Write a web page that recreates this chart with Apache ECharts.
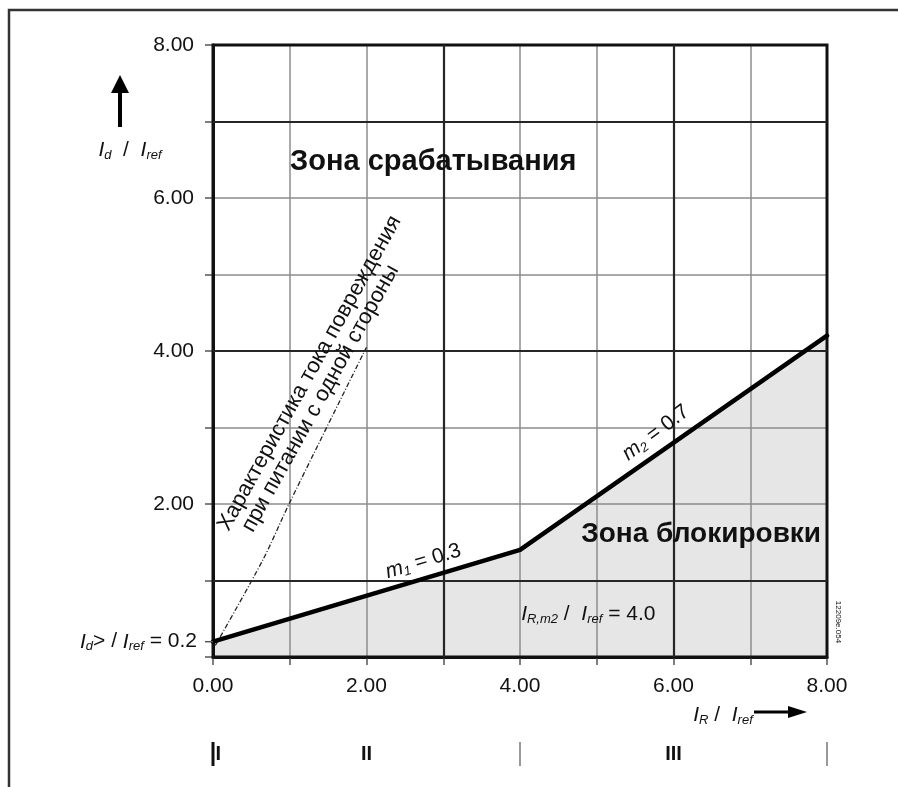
<!DOCTYPE html>
<html><head><meta charset="utf-8">
<script src="https://cdn.jsdelivr.net/npm/echarts@6/dist/echarts.min.js"></script>
<style>html,body{margin:0;padding:0;background:#fff}#c{width:898px;height:787px}</style>
</head><body><div id="c"></div>
<script>
// ---- data ----
const restraint = [0, 4, 8];            // I_R / I_ref
const diffChar  = [0.2, 1.4, 4.2];      // I_d / I_ref tripping characteristic
const faultX = [0.03, 0.65, 1.0, 2.0];  // single-side infeed fault characteristic
const faultY = [0.15, 1.27, 2.02, 4.05];
const majorX = [3, 6];
const majorY = [1, 4, 7];
const axisMin = 0, axisMax = 8, axisStep = 1;
const labelStep = 2;
const zoneNames = ['I', 'II', 'III'];
const zoneNameX = [0.07, 2, 6];
const zoneTickX = [0, 4, 8];
const pickup = 0.2;

const FONT = '"Liberation Sans", Arial, sans-serif';
const chart = echarts.init(document.getElementById('c'), null, {renderer: 'canvas'});

const charData = restraint.map((x, i) => [x, diffChar[i]]);
const faultData = faultX.map((x, i) => [x, faultY[i]]);

function axis(skipZero) {
  return {
    type: 'value', min: axisMin, max: axisMax, interval: axisStep, z: 2,
    axisLine: {show: true, onZero: false, lineStyle: {color: '#111', width: 3}},
    axisTick: {show: true, length: 8, lineStyle: {color: '#555', width: 1.5}},
    axisLabel: {
      color: '#111', fontFamily: FONT, fontSize: 21, margin: 19,
      formatter: v => (v % labelStep === 0 && !(skipZero && v === 0) ? v.toFixed(2) : '')
    },
    splitLine: {show: true, lineStyle: {color: '#8c8c8c', width: 1.5}}
  };
}

chart.setOption({
  animation: false,
  backgroundColor: '#fff',
  grid: {left: 213, top: 45, width: 614, height: 612, show: true,
         borderColor: '#111', borderWidth: 3, backgroundColor: 'transparent', z: 3},
  xAxis: axis(false),
  yAxis: axis(true),
  series: [
    { // blocking zone fill
      type: 'line', data: charData, z: 1, symbol: 'none',
      lineStyle: {width: 0}, areaStyle: {color: '#e6e6e6', opacity: 1}
    },
    { // major grid lines
      type: 'line', data: [], z: 3,
      markLine: {
        silent: true, symbol: ['none', 'none'], label: {show: false},
        lineStyle: {color: '#262626', width: 2.2, type: 'solid'},
        data: majorX.map(v => ({xAxis: v})).concat(majorY.map(v => ({yAxis: v})))
      }
    },
    { // fault characteristic
      type: 'line', data: faultData, z: 4, symbol: 'none', smooth: 0.3,
      lineStyle: {color: '#222', width: 1.3, type: [5, 2, 1, 2]}
    },
    { // tripping characteristic
      type: 'line', data: charData, z: 5, symbol: 'none',
      lineStyle: {color: '#000', width: 4.5, cap: 'round', join: 'round'}
    }
  ]
});

const P = (x, y) => chart.convertToPixel({gridIndex: 0}, [x, y]);
const deg = d => d * Math.PI / 180;
function txt(pos, text, opts) {
  return Object.assign({
    type: 'text', x: pos[0], y: pos[1], z: 20, rotation: 0,
    style: Object.assign({text: text, fill: '#111', font: '20px ' + FONT,
                          align: 'center', verticalAlign: 'middle'}, opts.style || {})
  }, opts.el || {});
}
const italic = {fontStyle: 'italic', fontSize: 21, fontFamily: FONT, fill: '#111'};
const sub = {fontStyle: 'italic', fontSize: 13, fontFamily: FONT, fill: '#111', padding: [10, 0, 0, 0]};
const norm = {fontSize: 21, fontFamily: FONT, fill: '#111'};
const richBase = {i: italic, s: sub, n: norm};

const g = [];
// outer frame (cropped)
g.push({type: 'polyline', shape: {points: [[9, 787], [9, 10], [898, 10]]},
        style: {stroke: '#333', lineWidth: 2.5, fill: null}, z: 20});
// zone labels
g.push(txt(P(2.87, 6.47), 'Зона срабатывания', {style: {font: 'bold 29px ' + FONT}}));
g.push(txt(P(6.36, 1.60), 'Зона блокировки', {style: {font: 'bold 28px ' + FONT}}));
// fault characteristic annotation
g.push(txt(P(1.26, 3.71), 'Характеристика тока повреждения', {style: {font: '22px ' + FONT}, el: {rotation: deg(61)}}));
g.push(txt(P(1.40, 3.38), 'при питании с одной стороны', {style: {font: '22px ' + FONT}, el: {rotation: deg(61)}}));
// slopes
g.push(txt(P(2.74, 1.25), '{i|m}{s|1}{n| = 0.3}', {style: {rich: richBase}, el: {rotation: deg(17)}}));
g.push(txt(P(5.77, 2.93), '{i|m}{s|2}{n| = 0.7}', {style: {rich: richBase}, el: {rotation: deg(37)}}));
// I_R,m2 label
g.push(txt(P(4.89, 0.56), '{i|I}{s|R,m2}{n| / }{i| I}{s|ref}{n| = 4.0}', {style: {rich: richBase}}));
// pickup label with tick
const pk = P(0, pickup);
g.push({type: 'line', shape: {x1: pk[0] - 8, y1: pk[1], x2: pk[0], y2: pk[1]}, style: {stroke: '#555', lineWidth: 1.5}, z: 20});
g.push(txt([pk[0] - 16, pk[1]], '{i|I}{s|d}{n|> / }{i|I}{s|ref}{n| = 0.2}', {style: {rich: richBase, align: 'right'}}));
// y axis title + arrow
g.push({type: 'line', shape: {x1: 120, y1: 127, x2: 120, y2: 90}, style: {stroke: '#000', lineWidth: 4}, z: 20});
g.push({type: 'polygon', shape: {points: [[111, 93], [129, 93], [120, 75]]}, style: {fill: '#000'}, z: 20});
g.push(txt([130, 150], '{i|I}{s|d}{n|  / }{i| I}{s|ref}', {style: {rich: richBase}}));
// x axis title + arrow
g.push(txt([723, 715], '{i|I}{s|R}{n| / }{i| I}{s|ref}', {style: {rich: richBase}}));
g.push({type: 'line', shape: {x1: 754, y1: 712, x2: 792, y2: 712}, style: {stroke: '#000', lineWidth: 3}, z: 20});
g.push({type: 'polygon', shape: {points: [[788, 706], [788, 718], [807, 712]]}, style: {fill: '#000'}, z: 20});
// zone ticks and roman numerals
zoneTickX.forEach(v => {
  const p = P(v, 0);
  g.push({type: 'line', shape: {x1: p[0], y1: 742, x2: p[0], y2: 766}, style: {stroke: v === 0 ? '#111' : '#777', lineWidth: v === 0 ? 3 : 1.5}, z: 20});
});
zoneNames.forEach((n, i) => {
  const p = P(zoneNameX[i], 0);
  g.push(txt([p[0], 754], n, {style: {font: 'bold 20px ' + FONT}}));
});
// drawing id
g.push(txt([838, 622], '12209e.054', {style: {font: '8px ' + FONT}, el: {rotation: deg(-90)}}));

chart.setOption({graphic: g});
</script>
</body></html>
